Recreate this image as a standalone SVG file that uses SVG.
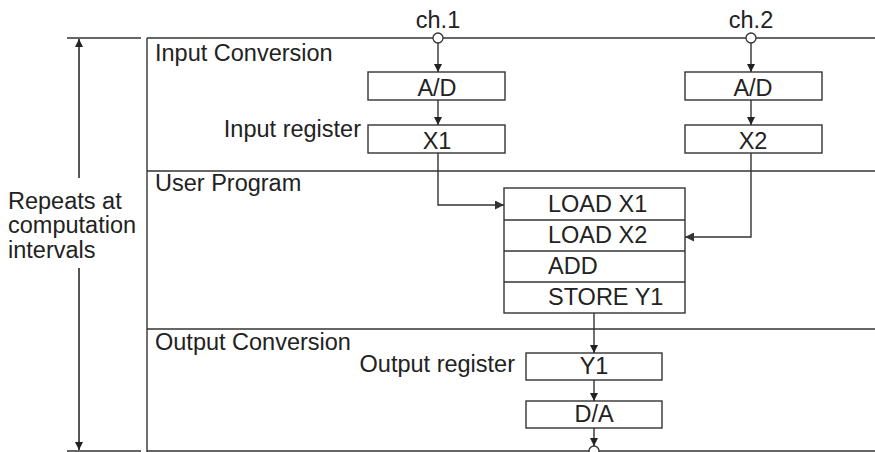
<svg xmlns="http://www.w3.org/2000/svg" width="875" height="452" viewBox="0 0 875 452">
<style>
text{font-family:"Liberation Sans",Arial,sans-serif;font-size:23.5px;fill:#222}
.c{text-anchor:middle}
.ln{stroke:#333;stroke-width:1.4;fill:none}
.bx{stroke:#333;stroke-width:1.4;fill:#fff}
.dot{stroke:#333;stroke-width:1.3;fill:#fff}
</style>
<defs>
<marker id="ah" viewBox="0 0 10 10" refX="10" refY="5" markerWidth="8" markerHeight="13" markerUnits="userSpaceOnUse" orient="auto">
<path d="M0,0 L10,5 L0,10 Z" fill="#222"/>
</marker>
<marker id="ahg" viewBox="0 0 10 10" refX="10" refY="5" markerWidth="18" markerHeight="9" markerUnits="userSpaceOnUse" orient="auto">
<path d="M0,0 L10,5 L0,10 Z" fill="#333"/>
</marker>
</defs>
<g id="frame">
<line class="ln" x1="147" y1="38" x2="875" y2="38"/>
<line class="ln" x1="147" y1="38" x2="147" y2="452"/>
<line class="ln" x1="147" y1="171" x2="875" y2="171"/>
<line class="ln" x1="147" y1="329" x2="875" y2="329" stroke="#555"/>
<line class="ln" x1="147" y1="451" x2="875" y2="451"/>
<line class="ln" x1="67" y1="38" x2="141" y2="38"/>
<line class="ln" x1="67" y1="451" x2="141" y2="451"/>
<text x="155" y="61">Input Conversion</text>
<text x="155" y="191">User Program</text>
<text x="155" y="350">Output Conversion</text>
</g>
<g id="repeat">
<line x1="79" y1="178" x2="79" y2="39" stroke="#555" stroke-width="2" marker-end="url(#ah)"/>
<line x1="79" y1="268" x2="79" y2="450" stroke="#555" stroke-width="2" marker-end="url(#ah)"/>
<text x="8" y="209">Repeats at</text>
<text x="8" y="233">computation</text>
<text x="8" y="258">intervals</text>
</g>
<g id="ch1">
<text class="c" x="438" y="28">ch.1</text>
</g>
<g id="ch2">
<text class="c" x="751" y="28">ch.2</text>
</g>
<g id="ad1">
<rect class="bx" x="368" y="72" width="137" height="28"/>
<text class="c" x="437" y="96">A/D</text>
</g>
<g id="x1">
<text x="361" y="137" text-anchor="end">Input register</text>
<rect class="bx" x="368" y="125" width="137" height="28"/>
<text class="c" x="437" y="149">X1</text>
</g>
<g id="ad2">
<rect class="bx" x="685" y="72" width="137" height="28"/>
<text class="c" x="753" y="96">A/D</text>
</g>
<g id="x2">
<rect class="bx" x="685" y="125" width="137" height="28"/>
<text class="c" x="753" y="149">X2</text>
</g>
<g id="program">
<rect class="bx" x="504" y="188" width="181" height="125"/>
<line class="ln" x1="504" y1="220" x2="685" y2="220"/>
<line class="ln" x1="504" y1="251" x2="685" y2="251"/>
<line class="ln" x1="504" y1="282" x2="685" y2="282"/>
<text x="548" y="212">LOAD X1</text>
<text x="548" y="243">LOAD X2</text>
<text x="548" y="274">ADD</text>
<text x="548" y="305">STORE Y1</text>
</g>
<g id="y1">
<text x="515" y="372" text-anchor="end">Output register</text>
<rect class="bx" x="526" y="353" width="136" height="27"/>
<text class="c" x="594" y="374">Y1</text>
</g>
<g id="da">
<rect class="bx" x="526" y="401" width="136" height="27"/>
<text class="c" x="594" y="422">D/A</text>
</g>
<g id="connectors">
<line class="ln" x1="438" y1="43" x2="438" y2="72" marker-end="url(#ah)"/>
<line class="ln" x1="438" y1="100" x2="438" y2="125" marker-end="url(#ah)"/>
<line class="ln" x1="751" y1="43" x2="751" y2="72" marker-end="url(#ah)"/>
<line class="ln" x1="751" y1="100" x2="751" y2="125" marker-end="url(#ah)"/>
<polyline class="ln" points="438,153 438,205 504,205" marker-end="url(#ahg)"/>
<polyline class="ln" points="751,153 751,237 685,237" marker-end="url(#ahg)"/>
<line class="ln" x1="594" y1="313" x2="594" y2="353" marker-end="url(#ah)"/>
<line class="ln" x1="594" y1="380" x2="594" y2="401" marker-end="url(#ah)"/>
<line class="ln" x1="594" y1="428" x2="594" y2="446" marker-end="url(#ah)"/>
<circle class="dot" cx="438" cy="38" r="5"/>
<circle class="dot" cx="751" cy="38" r="5"/>
<circle class="dot" cx="594" cy="451" r="5"/>
</g>
</svg>
